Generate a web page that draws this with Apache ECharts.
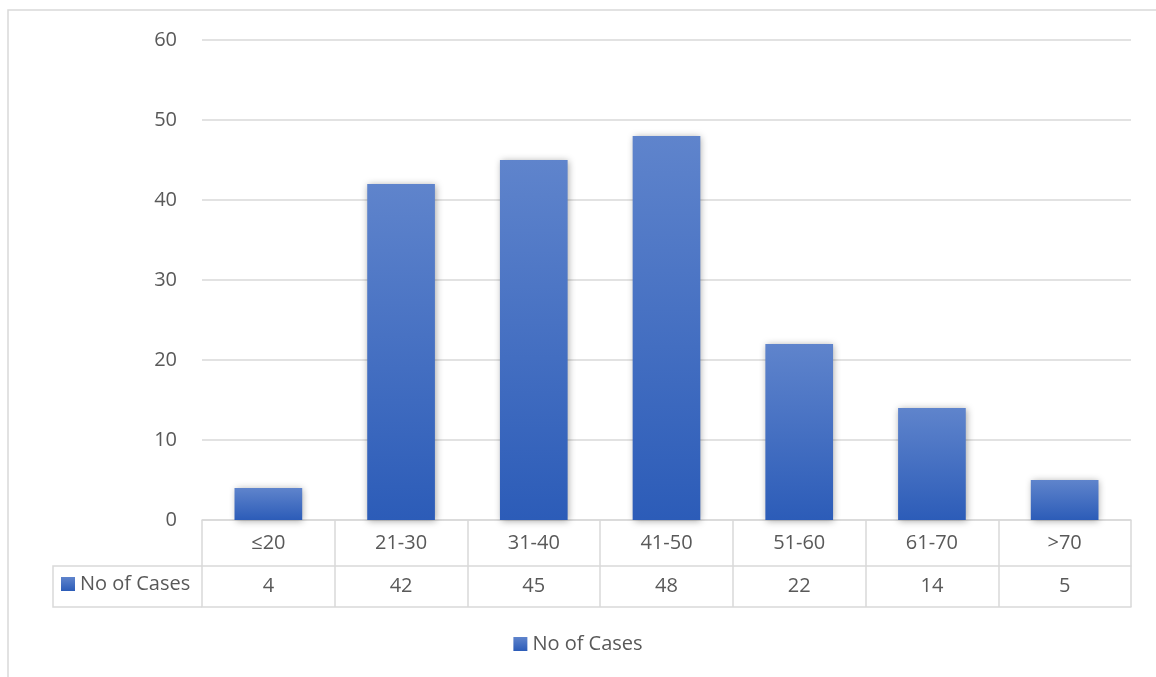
<!DOCTYPE html>
<html>
<head>
<meta charset="utf-8">
<script src="https://cdn.jsdelivr.net/npm/echarts@6/dist/echarts.min.js"></script>
<style>
html,body{margin:0;padding:0;background:#fff;}
#chart{width:1156px;height:677px;}
</style>
</head>
<body>
<div id="chart"></div>
<script>
const categories = ['≤20', '21-30', '31-40', '41-50', '51-60', '61-70', '>70'];
const seriesName = 'No of Cases';
const cases = [4, 42, 45, 48, 22, 14, 5];
const yTicks = { min: 0, max: 60, interval: 10 };

const FONT = 'Open Sans';
const TXT = '#595959';
const LINE = '#d9d9d9';
const FS = 20;

const chart = echarts.init(document.getElementById('chart'), null, { renderer: 'canvas' });

const barColor = new echarts.graphic.LinearGradient(0, 0, 0, 1, [
  { offset: 0, color: '#5f84cc' },
  { offset: 1, color: '#2c5cb8' }
]);

chart.setOption({
  backgroundColor: '#ffffff',
  animation: false,
  textStyle: { fontFamily: FONT },
  grid: { left: 202, right: 25, top: 40, bottom: 157, containLabel: false },
  legend: [
    {
      data: [seriesName],
      left: 'center',
      top: 629,
      icon: 'rect',
      itemWidth: 14,
      itemHeight: 14,
      selectedMode: false,
      textStyle: { color: TXT, fontSize: FS, fontFamily: FONT }
    },
    {
      data: [seriesName],
      left: 56,
      top: 569,
      padding: 5,
      icon: 'rect',
      itemWidth: 14,
      itemHeight: 14,
      selectedMode: false,
      textStyle: { color: TXT, fontSize: FS, fontFamily: FONT }
    }
  ],
  xAxis: [
    {
      type: 'category',
      data: categories,
      position: 'bottom',
      boundaryGap: true,
      axisLine: { show: true, lineStyle: { color: LINE, width: 1.5 } },
      axisTick: { show: true, interval: 0, length: 87, lineStyle: { color: LINE, width: 1.5 } },
      axisLabel: { color: TXT, fontSize: FS, fontFamily: FONT, margin: 13, interval: 0 },
      splitLine: { show: false }
    },
    {
      type: 'category',
      data: cases.map(String),
      position: 'bottom',
      offset: 46,
      boundaryGap: true,
      axisLine: { show: true, lineStyle: { color: LINE, width: 1.5 } },
      axisTick: { show: false },
      axisLabel: { color: TXT, fontSize: FS, fontFamily: FONT, margin: 10, interval: 0 },
      splitLine: { show: false }
    },
    {
      type: 'category',
      data: categories,
      position: 'bottom',
      offset: 87,
      boundaryGap: true,
      axisLine: { show: true, lineStyle: { color: LINE, width: 1.5 } },
      axisTick: { show: false },
      axisLabel: { show: false },
      splitLine: { show: false }
    }
  ],
  yAxis: {
    type: 'value',
    min: yTicks.min,
    max: yTicks.max,
    interval: yTicks.interval,
    axisLine: { show: false },
    axisTick: { show: false },
    axisLabel: { color: TXT, fontSize: FS, fontFamily: FONT, margin: 25 },
    splitLine: { show: true, lineStyle: { color: LINE, width: 1.5 } }
  },
  graphic: [
    {
      type: 'rect',
      shape: { x: 8, y: 10, width: 1200, height: 700 },
      style: { fill: 'none', stroke: LINE, lineWidth: 1.5 },
      silent: true
    },
    {
      type: 'polyline',
      shape: { points: [[202, 566], [53, 566], [53, 607], [202, 607]] },
      style: { fill: 'none', stroke: LINE, lineWidth: 1.5 },
      silent: true
    }
  ],
  series: [
    {
      name: seriesName,
      type: 'bar',
      xAxisIndex: 0,
      data: cases,
      barWidth: '51%',
      itemStyle: {
        color: barColor,
        shadowBlur: 7,
        shadowColor: 'rgba(0,0,0,0.35)',
        shadowOffsetX: 1,
        shadowOffsetY: 1
      }
    }
  ]
});
</script>
</body>
</html>
